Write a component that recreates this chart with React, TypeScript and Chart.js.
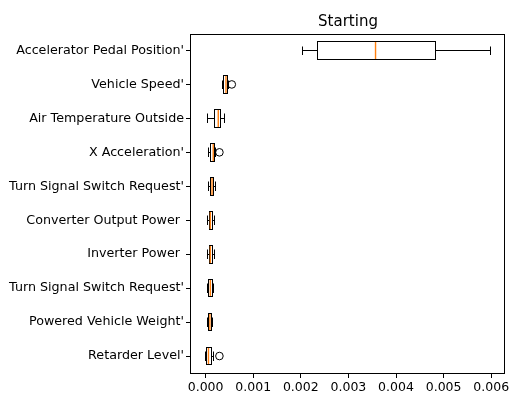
import React, { useEffect, useRef } from 'react';
import { Chart, registerables } from 'chart.js';

Chart.register(...registerables);

const chartTitle = 'Starting';

const categories = [
  "Accelerator Pedal Position'",
  "Vehicle Speed'",
  'Air Temperature Outside',
  "X Acceleration'",
  "Turn Signal Switch Request'",
  'Converter Output Power ',
  'Inverter Power ',
  "Turn Signal Switch Request'",
  "Powered Vehicle Weight'",
  "Retarder Level'",
];

const whiskerLow = [0.00203, 0.000345, 0.000044, 0.00007, 0.00007, 0.00004, 0.00004, 0.00004, 0.00004, 0.0];
const q1 = [0.00235, 0.000376, 0.000187, 0.0001, 0.0001, 0.00008, 0.00008, 0.00007, 0.00006, 0.00001];
const median = [0.00357, 0.000428, 0.000266, 0.00016, 0.000135, 0.0001, 0.0001, 0.0001, 0.00009, 0.00006];
const q3 = [0.00483, 0.00047, 0.000323, 0.00019, 0.00017, 0.00014, 0.00014, 0.00014, 0.00013, 0.00013];
const whiskerHigh = [0.00599, 0.000475, 0.000397, 0.0002, 0.0002, 0.00018, 0.00018, 0.00016, 0.00015, 0.00016];
const fliers: number[][] = [[], [0.00055], [], [0.00029], [], [], [], [], [], [0.00029]];

const xTicks = [0, 0.001, 0.002, 0.003, 0.004, 0.005, 0.006];
const xMin = -0.000307;
const xMax = 0.00629;

const FONT = 'DejaVu Sans';

const snap = (v: number) => Math.round(v - 0.5) + 0.5;

const boxExtras = {
  id: 'boxExtras',
  afterDatasetsDraw(chart: any) {
    const { ctx, scales } = chart;
    const x = scales.x;
    const y = scales.y;
    const band = Math.abs(y.getPixelForValue(1) - y.getPixelForValue(0));
    const boxH = band * 0.52;
    const line = (x1: number, y1: number, x2: number, y2: number) => {
      ctx.beginPath();
      ctx.moveTo(x1, y1);
      ctx.lineTo(x2, y2);
      ctx.stroke();
    };
    ctx.save();
    categories.forEach((_, i) => {
      const cyRaw = y.getPixelForValue(i);
      const cy = snap(cyRaw);
      const top = snap(cyRaw - boxH / 2);
      const bot = snap(cyRaw + boxH / 2);
      const capT = snap(cyRaw - boxH / 4);
      const capB = snap(cyRaw + boxH / 4);
      const pLo = snap(x.getPixelForValue(whiskerLow[i]));
      const pQ1 = snap(x.getPixelForValue(q1[i]));
      const pMed = x.getPixelForValue(median[i]);
      const pQ3 = snap(x.getPixelForValue(q3[i]));
      const pHi = snap(x.getPixelForValue(whiskerHigh[i]));
      ctx.strokeStyle = '#000';
      ctx.lineWidth = 1;
      line(pLo, cy, pQ1, cy);
      line(pQ3, cy, pHi, cy);
      line(pLo, capT, pLo, capB + 0.5);
      line(pHi, capT, pHi, capB + 0.5);
      ctx.strokeRect(pQ1, top, pQ3 - pQ1, bot - top);
      ctx.strokeStyle = '#ff7f0e';
      ctx.lineWidth = 1.4;
      line(pMed, top + 0.5, pMed, bot - 0.5);
      ctx.strokeStyle = '#000';
      ctx.lineWidth = 1;
      fliers[i].forEach((f) => {
        ctx.beginPath();
        ctx.arc(x.getPixelForValue(f), cyRaw, 3.8, 0, Math.PI * 2);
        ctx.stroke();
      });
    });
    const a = chart.chartArea;
    ctx.strokeStyle = '#000';
    ctx.lineWidth = 1;
    const l = Math.round(a.left) - 0.5;
    const t = Math.round(a.top) + 0.5;
    const r = Math.round(a.right) - 0.5;
    const b = Math.round(a.bottom) + 0.5;
    ctx.strokeRect(l, t, r - l, b - t);
    ctx.restore();
  },
};

export default function App() {
  const canvasRef = useRef<HTMLCanvasElement | null>(null);

  useEffect(() => {
    if (!canvasRef.current) return;
    const chart = new Chart(canvasRef.current, {
      type: 'bar',
      data: {
        labels: categories,
        datasets: [
          {
            data: categories.map((_, i) => [q1[i], q3[i]]) as any,
            backgroundColor: 'rgba(255,255,255,0)',
            borderColor: 'rgba(0,0,0,0)',
            borderWidth: 0,
            borderSkipped: false,
            barPercentage: 0.5,
            categoryPercentage: 1,
          },
        ],
      },
      options: {
        indexAxis: 'y',
        responsive: false,
        animation: false,
        layout: { padding: { left: 0, right: 6, top: 0, bottom: 0 } },
        plugins: {
          legend: { display: false },
          tooltip: { enabled: false },
          title: {
            display: true,
            text: chartTitle,
            fullSize: false,
            color: '#000',
            font: { family: FONT, size: 15, weight: 'normal' },
            padding: { top: 13, bottom: 2.5 },
          },
        },
        scales: {
          x: {
            type: 'linear',
            min: xMin,
            max: xMax,
            afterBuildTicks: (s: any) => {
              s.ticks = xTicks.map((v) => ({ value: v }));
            },
            afterFit: (s: any) => {
              s.height = 21;
              s.paddingLeft = 0;
              s.paddingRight = 0;
            },
            ticks: {
              autoSkip: false,
              maxRotation: 0,
              color: '#000',
              padding: 2,
              font: { family: FONT, size: 12.5 },
              callback: (v: any) => Number(v).toFixed(3),
            },
            grid: { display: true, drawOnChartArea: false, drawTicks: true, tickLength: 5, color: '#000' },
            border: { display: false },
          },
          y: {
            type: 'category',
            afterFit: (s: any) => {
              s.width = 191;
              s.paddingTop = 0;
              s.paddingBottom = 0;
            },
            ticks: {
              autoSkip: false,
              color: '#000',
              padding: 2,
              font: { family: FONT, size: 12.7 },
            },
            grid: { display: true, offset: false, drawOnChartArea: false, drawTicks: true, tickLength: 5, color: '#000' },
            border: { display: false },
          },
        },
      },
      plugins: [boxExtras],
    } as any);
    return () => chart.destroy();
  }, []);

  return (
    <div style={{ position: 'fixed', left: 0, top: 0, width: 511, height: 394, background: '#fff' }}>
      <canvas ref={canvasRef} width={511} height={394} />
    </div>
  );
}
